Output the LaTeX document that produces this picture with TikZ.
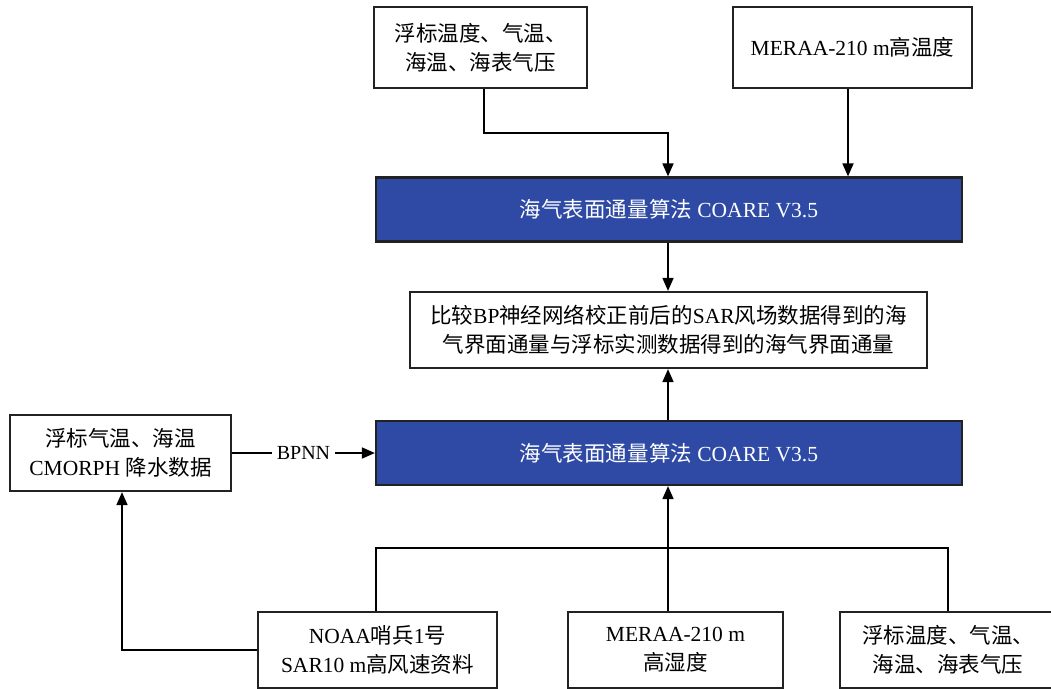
\documentclass[tikz,border=0pt]{standalone}
\usepackage{fontspec}
\setmainfont{Liberation Serif}
\newfontfamily\cjk{Noto Sans CJK SC}
\newcommand{\zh}[1]{{\cjk #1}}
\usepackage{tikz}
\usetikzlibrary{arrows.meta}
\usetikzlibrary{calc}

\definecolor{coareblue}{RGB}{46,74,165}
\definecolor{edgegray}{RGB}{34,34,34}

\begin{document}
\begin{tikzpicture}[x=1pt,y=-1pt,
	every node/.style={font=\fontsize{21.5}{29}\selectfont},
	databox/.style={draw=edgegray,line width=2.2pt,fill=white,inner sep=0pt,align=center},
	coarebox/.style={draw=edgegray,line width=2.2pt,fill=coareblue,text=white,inner sep=0pt,
		minimum width=586pt,minimum height=64pt},
	flow/.style={line width=1.7pt,-{Triangle[length=13pt,width=11pt]}},
	link/.style={line width=1.7pt}
	]
\useasboundingbox (0,0) rectangle (1051,688);

% inputs of the first COARE run
\node[databox,minimum width=213pt,minimum height=81pt] (buoytop) at (480.5,47.5)
	{\zh{浮标温度、气温、}\\\zh{海温、海表气压}};
\node[databox,minimum width=239pt,minimum height=81pt] (meraatop) at (852.5,47.5)
	{MERAA-210 m\zh{高温度}};

\node[coarebox] (coareA) at (669,209.5) {\zh{海气表面通量算法} COARE V3.5};

\node[databox,minimum width=517pt,minimum height=76pt] (compare) at (668.5,330)
	{\zh{比较}BP\zh{神经网络校正前后的}SAR\zh{风场数据得到的海}\\
	 \zh{气界面通量与浮标实测数据得到的海气界面通量}};

\node[coarebox] (coareB) at (669,453) {\zh{海气表面通量算法} COARE V3.5};

\node[databox,minimum width=221pt,minimum height=76pt] (bpin) at (120.5,453)
	{\zh{浮标气温、海温}\\CMORPH \zh{降水数据}};

% bottom row
\node[databox,minimum width=239pt,minimum height=76pt] (sar) at (377.5,650)
	{NOAA\zh{哨兵}1\zh{号}\\SAR10 m\zh{高风速资料}};
\node[databox,minimum width=215pt,minimum height=76pt] (meraabot) at (675.5,650)
	{MERAA-210 m\\\zh{高湿度}};
\node[databox,minimum width=216pt,minimum height=76pt] (buoybot) at (948,650)
	{\zh{浮标温度、气温、}\\\zh{海温、海表气压}};

\coordinate (jointop) at (668,133);
\coordinate (joinbot) at (668,548);

\draw[flow] ($(buoytop.south)+(3.5,0)$) |- (jointop) -- (jointop |- coareA.north);
\draw[flow] ($(meraatop.south)+(-4.5,0)$) -- ($(meraatop.south |- coareA.north)+(-4.5,0)$);
\draw[flow] (coareA.south -| jointop) -- (compare.north -| jointop);
\draw[flow] (coareB.north -| jointop) -- (compare.south -| jointop);

\draw[flow] (bpin.east) -- node[fill=white,inner sep=5pt,font=\fontsize{20}{24}\selectfont] {BPNN} (coareB.west);

\draw[link] ($(sar.north)+(-1.5,0)$) |- (joinbot) -| (buoybot.north);
\draw[flow] (joinbot |- meraabot.north) -- (joinbot |- coareB.south);
\draw[flow] (sar.west) -| ($(bpin.south)+(1.5,0)$);

\end{tikzpicture}
\end{document}
